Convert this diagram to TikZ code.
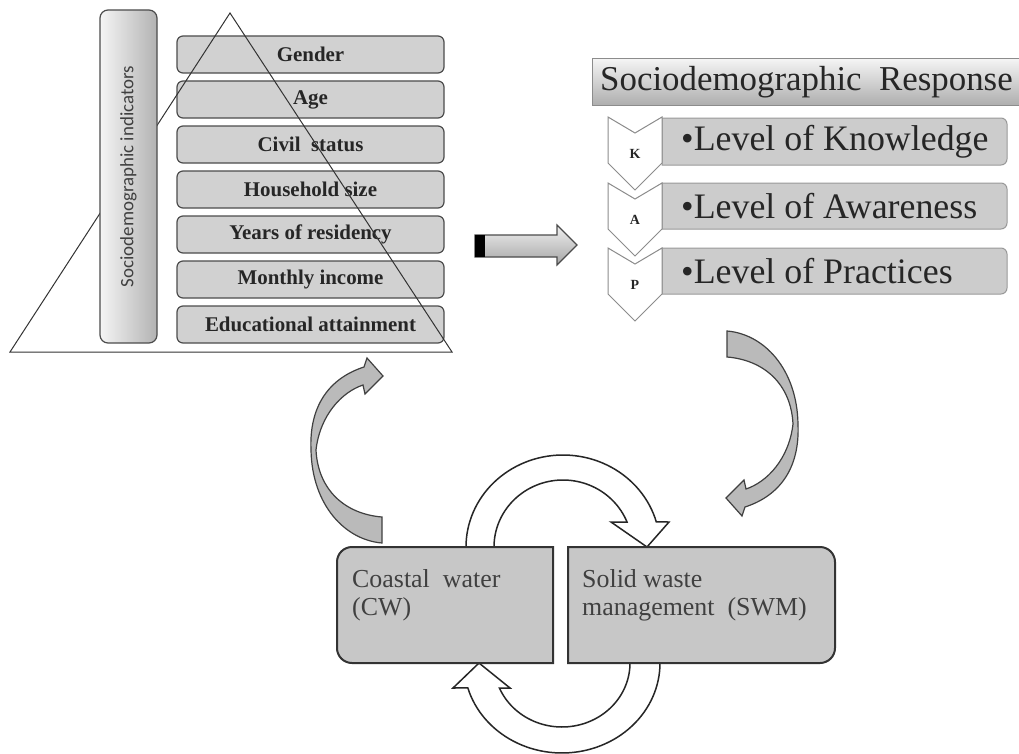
\documentclass[tikz,border=0pt]{standalone}
\usepackage{fontspec}
\setmainfont{Liberation Serif}
\newfontfamily\calib{Carlito}
\begin{document}
\begin{tikzpicture}[x=1bp,y=-1bp,
  indbox/.style={draw=black!70, line width=1.2bp, rounded corners=6bp, fill=black!18, minimum width=267bp, minimum height=37bp, inner sep=0pt, font=\bfseries\fontsize{21}{22}\selectfont, text=black!85},
  lvlbox/.style={draw=black!40, line width=1bp, fill=black!20},
  lvltext/.style={anchor=west, inner sep=0pt, font=\fontsize{36}{38}\selectfont, text=black!85},
  chev/.style={draw=black!45, line width=1bp, fill=white},
  chevlbl/.style={font=\bfseries\fontsize{14}{14}\selectfont, inner sep=0pt, text=black!85},
  bigbox/.style={draw=black!80, line width=2bp, fill=black!22},
  bigtext/.style={anchor=north west, align=left, inner sep=0pt, font=\fontsize{26}{28}\selectfont, text=black!75},
  ring/.style={draw=black!85, line width=1.5bp, fill=white},
  curv/.style={draw=black!75, line width=1.2bp, fill=black!27},
]
\useasboundingbox (0,0) rectangle (1019,754);
\fill[white] (0,0) rectangle (1019,754);

% indicator boxes
\node[indbox] (gender) at (310.5,54.5) {Gender};
\node[indbox] (age) at (310.5,99.5) {Age};
\node[indbox] (civil) at (310.5,144.5) {Civil\ \ status};
\node[indbox] (house) at (310.5,189.5) {Household size};
\node[indbox] (years) at (310.5,234.5) {Years of residency};
\node[indbox] (income) at (310.5,279.5) {Monthly income};
\node[indbox] (educ) at (310.5,324.5) {Educational attainment};

% triangle
\coordinate (apex) at (230,13);
\coordinate (bl) at (10,352);
\coordinate (br) at (452,352);
\draw[black!80, line width=1bp] (apex) -- (br) -- (bl) -- cycle;

% vertical bar
\node[draw=black!70, line width=1.2bp, rounded corners=8bp, left color=black!4, right color=black!30, minimum width=57bp, minimum height=333bp, inner sep=0pt] (bar) at (128.5,176.5) {};
\node[rotate=90, inner sep=0pt, font=\calib\fontsize{19}{19}\selectfont, text=black!75] (barlbl) at (bar.center) {Sociodemographic indicators};

% header
\node[draw=black!45, line width=1bp, top color=black!4, bottom color=black!32, minimum width=440bp, minimum height=47bp, inner sep=0pt, anchor=north west] (hdrbox) at (592,58) {};
\node[anchor=west, inner sep=0pt, font=\fontsize{35}{36}\selectfont, text=black!85] (hdr) at (600,82) {Sociodemographic\ \ Response};

% level boxes (square left side, rounded right side)
\draw[lvlbox] (662,118) -- (1001,118) .. controls (1004.3,118) and (1007,120.7) .. (1007,124) -- (1007,159) .. controls (1007,162.3) and (1004.3,165) .. (1001,165) -- (662,165) -- cycle;
\draw[lvlbox] (662,183) -- (1001,183) .. controls (1004.3,183) and (1007,185.7) .. (1007,189) -- (1007,223) .. controls (1007,226.3) and (1004.3,229) .. (1001,229) -- (662,229) -- cycle;
\draw[lvlbox] (662,248) -- (1001,248) .. controls (1004.3,248) and (1007,250.7) .. (1007,254) -- (1007,288) .. controls (1007,291.3) and (1004.3,294) .. (1001,294) -- (662,294) -- cycle;
\node[lvltext] (ktext) at (681,141.5) {\textbullet Level of Knowledge};
\node[lvltext] (atext) at (681,206) {\textbullet Level of Awareness};
\node[lvltext] (ptext) at (681,271) {\textbullet Level of Practices};

% chevrons
\draw[chev] (608,117) -- (635,133) -- (662,117) -- (662,163) -- (635,190) -- (608,163) -- cycle;
\draw[chev] (608,183) -- (635,199) -- (662,183) -- (662,229) -- (635,256) -- (608,229) -- cycle;
\draw[chev] (608,248) -- (635,264) -- (662,248) -- (662,294) -- (635,321) -- (608,294) -- cycle;
\node[chevlbl] (kl) at (635,154) {K};
\node[chevlbl] (al) at (635,220) {A};
\node[chevlbl] (pl) at (635,285) {P};

% block arrow
\shade[top color=black!6, bottom color=black!35, draw=black!70, line width=1.2bp] (475,235) -- (557,235) -- (557,225) -- (577,245) -- (557,265) -- (557,257) -- (475,257) -- cycle;
\fill[black] (475,235) rectangle (485,257);

% left curved arrow
\draw[curv] (382,517) -- (382,543) .. controls (345,540) and (312,505) .. (311,450)
  .. controls (309,405) and (330,378) .. (364,367) -- (367,358) -- (383,376) -- (365,394) -- (363,385)
  .. controls (342,392) and (320,415) .. (316,450) .. controls (318,490) and (345,514) .. (382,517) -- cycle;
% right curved arrow (same shape turned round)
\begin{scope}[rotate around={180:(554.5,437)}]
\draw[curv] (382,517) -- (382,543) .. controls (345,540) and (312,505) .. (311,450)
  .. controls (309,405) and (330,378) .. (364,367) -- (367,358) -- (383,376) -- (365,394) -- (363,385)
  .. controls (342,392) and (320,415) .. (316,450) .. controls (318,490) and (345,514) .. (382,517) -- cycle;
\end{scope}

% circular arrows
\draw[ring] plot[domain=180:344.2, samples=60] ({563+97*cos(\x)},{547+92*sin(\x)}) -- (669,522) -- (647,547) -- (611,522) -- plot[domain=338.1:180, samples=60] ({563+69*cos(\x)},{547+67*sin(\x)}) -- cycle;
\draw[ring] plot[domain=0:163.9, samples=60] ({562+98*cos(\x)},{663+90*sin(\x)}) -- (453,688) -- (479,663) -- (510,688) -- plot[domain=157:0, samples=60] ({562+68*cos(\x)},{663+64*sin(\x)}) -- cycle;

% big boxes
\draw[bigbox] (553,547) -- (352,547) .. controls (343.7,547) and (337,553.7) .. (337,562) -- (337,648) .. controls (337,656.3) and (343.7,663) .. (352,663) -- (553,663) -- cycle;
\draw[bigbox] (568,547) -- (820,547) .. controls (828.3,547) and (835,553.7) .. (835,562) -- (835,648) .. controls (835,656.3) and (828.3,663) .. (820,663) -- (568,663) -- cycle;
\node[bigtext] (cw) at (352,569) {Coastal\ \ water\\(CW)};
\node[bigtext] (swm) at (582,569) {Solid waste\\management\ \ (SWM)};
\end{tikzpicture}
\end{document}
